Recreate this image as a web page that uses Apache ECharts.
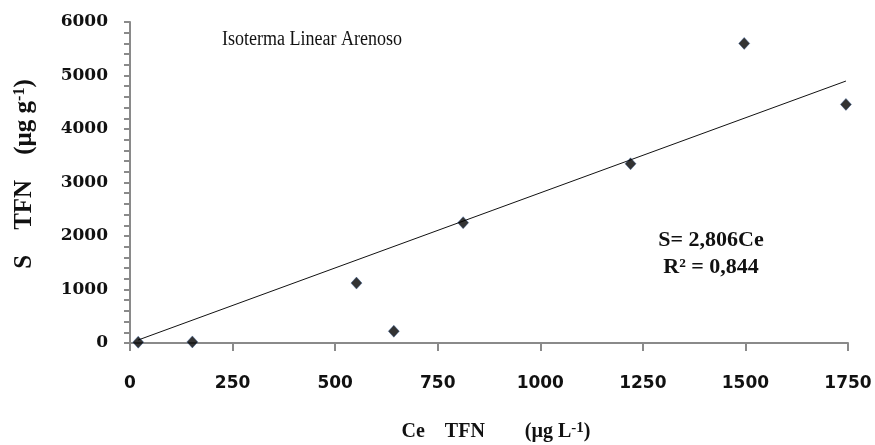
<!DOCTYPE html>
<html>
<head>
<meta charset="utf-8">
<script src="https://cdn.jsdelivr.net/npm/echarts@6/dist/echarts.min.js"></script>
<style>
  html, body { margin: 0; padding: 0; background: #fff; }
  #chart { width: 875px; height: 445px; }
</style>
</head>
<body>
<div id="chart"></div>
<script>
// Equilibrium concentration Ce (µg L-1) and sorbed amount S (µg g-1)
const ceValues = [20, 152, 552, 643, 812, 1220, 1497, 1745];
const sValues = [15, 20, 1120, 220, 2250, 3350, 5600, 4460];

// Linear isotherm through the origin
const slope = 2.806;
const r2Text = '0,844';

const xTicks = [0, 250, 500, 750, 1000, 1250, 1500, 1750];
const yTicks = [0, 1000, 2000, 3000, 4000, 5000, 6000];
const yMinorStep = 200;

const points = ceValues.map((c, i) => [c, sValues[i]]);
const ceMin = Math.min(...ceValues);
const ceMax = Math.max(...ceValues);
const fitLine = [[ceMin, slope * ceMin], [ceMax, slope * ceMax]];

const axisGray = '#8a8a8a';
const serif = '"Liberation Serif", "Times New Roman", serif';

const chart = echarts.init(document.getElementById('chart'), null, { renderer: 'canvas' });

chart.setOption({
  animation: false,
  backgroundColor: '#ffffff',
  grid: { left: 130, right: 27, top: 22, bottom: 102 },
  xAxis: {
    type: 'value',
    min: xTicks[0],
    max: xTicks[xTicks.length - 1],
    interval: xTicks[1] - xTicks[0],
    axisLine: { show: true, lineStyle: { color: axisGray, width: 2 } },
    axisTick: { show: true, length: 8, lineStyle: { color: axisGray, width: 2 } },
    splitLine: { show: false },
    axisLabel: {
      margin: 32,
      color: '#111',
      fontFamily: '"DejaVu Sans", sans-serif',
      fontWeight: 'bold',
      fontSize: 17,
      formatter: v => String(v)
    }
  },
  yAxis: {
    type: 'value',
    min: yTicks[0],
    max: yTicks[yTicks.length - 1],
    // every tick mark is drawn, only the thousands carry a label
    interval: yMinorStep,
    axisLine: { show: true, lineStyle: { color: axisGray, width: 2 } },
    axisTick: { show: true, length: 6, lineStyle: { color: axisGray, width: 2 } },
    splitLine: { show: false },
    axisLabel: {
      margin: 22,
      color: '#111',
      fontFamily: '"DejaVu Serif", serif',
      fontWeight: 'bold',
      fontSize: 17,
      formatter: v => (yTicks.includes(v) ? String(v) : '')
    }
  },
  series: [
    {
      type: 'line',
      data: fitLine,
      showSymbol: false,
      symbol: 'none',
      lineStyle: { color: '#111', width: 1 },
      z: 2
    },
    {
      type: 'scatter',
      data: points,
      symbol: 'diamond',
      symbolSize: [11, 12],
      itemStyle: { color: '#000000', borderColor: '#2f5a9a', borderWidth: 0.5 },
      z: 3
    }
  ],
  graphic: [
    {
      type: 'text',
      x: 222,
      y: 40,
      scaleX: 0.9,
      style: {
        text: 'Isoterma Linear Arenoso',
        font: 'normal 20px ' + serif,
        fill: '#111',
        textVerticalAlign: 'middle'
      }
    },
    {
      type: 'text',
      x: 711,
      y: 240,
      style: {
        text: 'S= ' + slope.toFixed(3).replace('.', ',') + 'Ce',
        font: 'bold 22px ' + serif,
        fill: '#111',
        textAlign: 'center',
        textVerticalAlign: 'middle'
      }
    },
    {
      type: 'text',
      x: 711,
      y: 267,
      style: {
        text: 'R² = ' + r2Text,
        font: 'bold 22px ' + serif,
        fill: '#111',
        textAlign: 'center',
        textVerticalAlign: 'middle'
      }
    },
    {
      type: 'text',
      x: 496,
      y: 432,
      style: {
        text: '{t|Ce    TFN        (µg L}{sup|-1}{t|)}',
        textAlign: 'center',
        textVerticalAlign: 'middle',
        rich: {
          t: { font: 'bold 20px ' + serif, fill: '#111' },
          sup: { font: 'bold 15px ' + serif, fill: '#111', verticalAlign: 'top', padding: [0, 0, 8, 0] }
        }
      }
    },
    {
      type: 'text',
      x: 25,
      y: 174,
      rotation: Math.PI / 2,
      style: {
        text: '{t|S    TFN    (µg g}{sup|-1}{t|)}',
        textAlign: 'center',
        textVerticalAlign: 'middle',
        rich: {
          t: { font: 'bold 25px ' + serif, fill: '#111' },
          sup: { font: 'bold 16px ' + serif, fill: '#111', verticalAlign: 'top', padding: [0, 0, 10, 0] }
        }
      }
    }
  ]
});
</script>
</body>
</html>
